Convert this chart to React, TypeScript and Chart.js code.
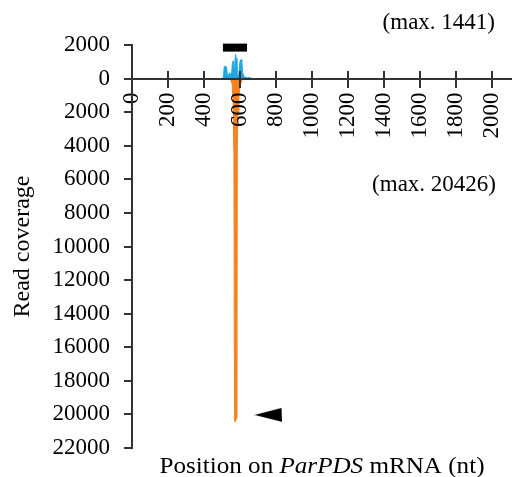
import React, { useEffect, useRef } from 'react';
import { Chart, registerables } from 'chart.js';

Chart.register(...registerables);

const FONT = '"Liberation Serif", "Times New Roman", serif';

// x tick values (nt) and y tick values (read coverage; negative = antisense)
const xTickValues = [0, 200, 400, 600, 800, 1000, 1200, 1400, 1600, 1800, 2000];
const yTickValues = [2000, 0, -2000, -4000, -6000, -8000, -10000, -12000, -14000, -16000, -18000, -20000, -22000];

// sense-strand coverage (blue, plotted upward)
const sensePos = [0, 500, 508, 512, 520, 526, 530, 536, 542, 548, 554, 558, 563, 567, 571, 575, 579, 583, 588, 593, 598, 602, 606, 610, 614, 620, 630, 640, 650, 660, 670, 680, 2105];
const senseCov = [0, 0, 100, 700, 750, 650, 150, 200, 350, 200, 400, 1000, 1050, 600, 900, 1441, 1200, 300, 150, 250, 900, 1100, 1130, 1000, 400, 150, 80, 40, 60, 30, 10, 0, 0];

// antisense coverage (orange, plotted downward)
const antiPos = [0, 540, 548, 556, 562, 566, 569, 572, 583, 585, 589, 594, 600, 610, 625, 700, 710, 720, 860, 870, 880, 1000, 1010, 1020, 1200, 1210, 1220, 1400, 1410, 1420, 1600, 1610, 1620, 2105];
const antiCov = [0, 0, -100, -300, -1500, -4000, -19000, -20426, -20200, -4000, -2000, -1000, -400, -100, 0, 0, -60, 0, 0, -60, 0, 0, -50, 0, 0, -50, 0, 0, -50, 0, 0, -40, 0, 0];

// black bar (target region) and arrowhead marker
const barPos = [505, 639];
const barLevel = [1845, 1845];
const arrowPos = [758];
const arrowLevel = [-20030];

const maxLabels = ['(max. 1441)', '(max. 20426)'];
const xTitleParts = ['Position on ', 'ParPDS', ' mRNA (nt)'];
const yTitle = 'Read coverage';

const toPoints = (xs: number[], ys: number[]) => xs.map((x, i) => ({ x, y: ys[i] }));

export default function App() {
  const ref = useRef<HTMLCanvasElement | null>(null);

  useEffect(() => {
    document.body.style.margin = '0';
    const canvas = ref.current;
    if (!canvas) return;

    const tri = document.createElement('canvas');
    tri.width = 28;
    tri.height = 14;
    const tc = tri.getContext('2d')!;
    tc.fillStyle = '#000';
    tc.beginPath();
    tc.moveTo(0, 7);
    tc.lineTo(27, 0);
    tc.lineTo(28, 14);
    tc.closePath();
    tc.fill();

    const overlay = {
      id: 'overlay',
      afterDraw(chart: any) {
        const { ctx, scales } = chart;
        const x = scales.x;
        const y = scales.y;
        const y0 = Math.round(y.getPixelForValue(0));
        ctx.save();
        ctx.strokeStyle = '#333';
        ctx.lineWidth = 2;
        xTickValues.forEach((v) => {
          const px = Math.round(x.getPixelForValue(v));
          ctx.beginPath();
          ctx.moveTo(px, y0 - 8);
          ctx.lineTo(px, y0);
          ctx.stroke();
        });
        ctx.fillStyle = '#000';
        ctx.textAlign = 'right';
        ctx.textBaseline = 'alphabetic';
        ctx.font = `23px ${FONT}`;
        ctx.fillText(maxLabels[0], 495, 29);
        ctx.fillText(maxLabels[1], 496, 191);

        // bottom axis title with italic gene name
        const fonts = [`23px ${FONT}`, `italic 23px ${FONT}`, `23px ${FONT}`];
        const widths = xTitleParts.map((t, i) => {
          ctx.font = fonts[i];
          return ctx.measureText(t).width;
        });
        const total = widths.reduce((a, b) => a + b, 0);
        const sx = 325 / total;
        ctx.translate(322, 473);
        ctx.scale(sx, 1);
        ctx.textAlign = 'left';
        let cx = -total / 2;
        xTitleParts.forEach((t, i) => {
          ctx.font = fonts[i];
          ctx.fillText(t, cx, 0);
          cx += widths[i];
        });
        ctx.restore();
      },
    };

    const chart = new Chart(canvas, {
      type: 'line',
      data: {
        datasets: [
          {
            data: toPoints(antiPos, antiCov),
            borderColor: '#f58220',
            backgroundColor: '#f58220',
            borderWidth: 1,
            fill: 'origin',
            pointRadius: 0,
            tension: 0,
          },
          {
            data: toPoints(sensePos, senseCov),
            borderColor: '#1fa8e0',
            backgroundColor: '#1fa8e0',
            borderWidth: 1,
            fill: 'origin',
            pointRadius: 0,
            tension: 0,
          },
          {
            data: toPoints(barPos, barLevel),
            borderColor: '#000',
            borderWidth: 8,
            borderCapStyle: 'butt',
            pointRadius: 0,
            fill: false,
            clip: false,
          } as any,
          {
            data: toPoints(arrowPos, arrowLevel),
            showLine: false,
            pointStyle: tri,
            pointRadius: 10,
            pointBackgroundColor: '#000',
            pointBorderWidth: 0,
            clip: false,
          } as any,
        ],
      },
      options: {
        animation: false,
        responsive: false,
        maintainAspectRatio: false,
        layout: { autoPadding: false, padding: { left: 0, right: 1, top: 45, bottom: 29 } },
        plugins: { legend: { display: false }, tooltip: { enabled: false } },
        events: [],
        scales: {
          x: {
            type: 'linear',
            position: { y: 0 } as any,
            min: 0,
            max: 2105,
            border: { display: true, color: '#333', width: 2, z: 1 },
            grid: { drawOnChartArea: false, drawTicks: true, tickLength: 8, color: '#333', lineWidth: 2, z: 1 },
            ticks: {
              color: '#000',
              font: { family: FONT, size: 23 },
              minRotation: 90,
              maxRotation: 90,
              autoSkip: false,
              padding: 6,
              stepSize: 200,
              z: 1,
              callback: (v: any) => String(v),
            },
            afterBuildTicks: (scale: any) => {
              scale.ticks = xTickValues.map((v) => ({ value: v }));
            },
            afterFit: (scale: any) => {
              scale.height = 0;
              scale.paddingLeft = 0;
              scale.paddingRight = 0;
            },
          },
          y: {
            type: 'linear',
            position: 'left',
            min: -22000,
            max: 2000,
            border: { display: true, color: '#333', width: 2, z: 1 },
            grid: { drawOnChartArea: false, drawTicks: true, tickLength: 8, color: '#333', lineWidth: 2, z: 1 },
            ticks: {
              color: '#000',
              font: { family: FONT, size: 23 },
              autoSkip: false,
              padding: 14,
              stepSize: 2000,
              z: 1,
              callback: (v: any) => String(Math.abs(Number(v))),
            },
            afterBuildTicks: (scale: any) => {
              scale.ticks = yTickValues.map((v) => ({ value: v }));
            },
            title: {
              display: true,
              text: yTitle,
              color: '#000',
              font: { family: FONT, size: 24 },
              padding: { top: 8, bottom: 0 },
            },
            afterFit: (scale: any) => {
              scale.width = 132;
              scale.paddingTop = 0;
              scale.paddingBottom = 0;
            },
          },
        },
      },
      plugins: [overlay],
    } as any);

    return () => chart.destroy();
  }, []);

  return (
    <div style={{ width: 512, height: 477 }}>
      <canvas ref={ref} width={512} height={477} style={{ display: 'block' }} />
    </div>
  );
}
